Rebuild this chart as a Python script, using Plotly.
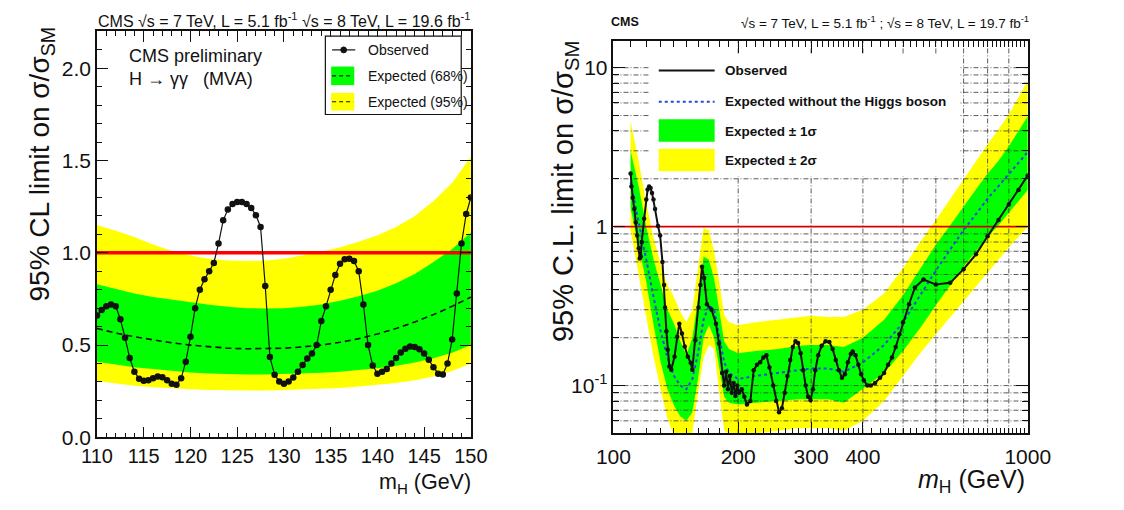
import math
import plotly.graph_objects as go

W, H = 1124, 510
FONT = "Liberation Sans, Arial, Helvetica, sans-serif"
INK = "#111111"

# ---------------- LEFT PANEL DATA (H -> gamma gamma, MVA) ----------------
left_band_mass = [110, 112, 114, 116, 118, 120, 122, 124, 126, 128, 130,
                  132, 134, 136, 138, 140, 142, 144, 146, 148, 150]
left_exp95_low = [0.305, 0.292, 0.28, 0.272, 0.265, 0.26, 0.256, 0.254, 0.253, 0.254, 0.256,
                  0.259, 0.263, 0.268, 0.275, 0.283, 0.294, 0.31, 0.33, 0.36, 0.40]
left_exp68_low = [0.41, 0.395, 0.38, 0.37, 0.36, 0.352, 0.346, 0.342, 0.34, 0.34, 0.342,
                  0.345, 0.35, 0.356, 0.364, 0.374, 0.388, 0.405, 0.428, 0.458, 0.50]
left_exp_median = [0.59, 0.565, 0.545, 0.527, 0.512, 0.50, 0.49, 0.483, 0.48, 0.48, 0.483,
                   0.49, 0.50, 0.515, 0.535, 0.56, 0.59, 0.625, 0.665, 0.71, 0.76]
left_exp68_high = [0.83, 0.805, 0.78, 0.76, 0.745, 0.73, 0.718, 0.708, 0.70, 0.698, 0.70,
                   0.708, 0.72, 0.74, 0.765, 0.795, 0.835, 0.885, 0.95, 1.02, 1.11]
left_exp95_high = [1.15, 1.12, 1.085, 1.045, 1.01, 0.985, 0.968, 0.958, 0.955, 0.958, 0.968,
                   0.985, 1.005, 1.03, 1.06, 1.095, 1.14, 1.20, 1.28, 1.38, 1.52]

left_obs_mass = [110.0, 110.5, 111.0, 111.5, 112.0, 112.5, 113.0, 113.5, 114.0, 114.5,
                 115.0, 115.5, 116.0, 116.5, 117.0, 117.5, 118.0, 118.5, 119.0, 119.5,
                 120.0, 120.5, 121.0, 121.5, 122.0, 122.5, 123.0, 123.5, 124.0, 124.5,
                 125.0, 125.5, 126.0, 126.5, 127.0, 127.5, 128.0, 128.5, 129.0, 129.5,
                 130.0, 130.5, 131.0, 131.5, 132.0, 132.5, 133.0, 133.5, 134.0, 134.5,
                 135.0, 135.5, 136.0, 136.5, 137.0, 137.5, 138.0, 138.5, 139.0, 139.5,
                 140.0, 140.5, 141.0, 141.5, 142.0, 142.5, 143.0, 143.5, 144.0, 144.5,
                 145.0, 145.5, 146.0, 146.5, 147.0, 147.5, 148.0, 148.5, 149.0, 149.5,
                 150.0]
left_obs_limit = [0.66, 0.69, 0.71, 0.72, 0.71, 0.64, 0.54, 0.43, 0.355, 0.318,
                  0.307, 0.31, 0.32, 0.33, 0.325, 0.31, 0.29, 0.285, 0.32, 0.41,
                  0.545, 0.70, 0.80, 0.856, 0.90, 0.945, 1.05, 1.176, 1.234, 1.264,
                  1.275, 1.275, 1.264, 1.243, 1.204, 1.14, 0.82, 0.436, 0.339, 0.303,
                  0.291, 0.303, 0.324, 0.356, 0.392, 0.427, 0.454, 0.50, 0.63, 0.71,
                  0.80, 0.88, 0.94, 0.965, 0.968, 0.956, 0.90, 0.72, 0.50, 0.39,
                  0.345, 0.355, 0.37, 0.40, 0.43, 0.46, 0.48, 0.492, 0.49, 0.478,
                  0.455, 0.42, 0.38, 0.345, 0.34, 0.40, 0.53, 0.78, 1.05, 1.21,
                  1.30]

left_x_ticks = [110, 115, 120, 125, 130, 135, 140, 145, 150]
sm_ratio = 1.0

# ---------------- RIGHT PANEL DATA (110 - 1000 GeV) ----------------
right_band_mass = [110, 115, 120, 125, 130, 135, 140, 145, 150, 155, 160, 165, 170, 175,
                   180, 185, 190, 200, 220, 250, 280, 300, 330, 360, 400, 450, 500, 550,
                   600, 650, 700, 750, 800, 850, 900, 950, 1000]
right_exp_median = [1.9, 1.1, 0.62, 0.36, 0.22, 0.15, 0.115, 0.1, 0.095, 0.11, 0.16, 0.26,
                    0.32, 0.30, 0.2, 0.14, 0.12, 0.11, 0.115, 0.12, 0.125, 0.128, 0.128,
                    0.122, 0.14, 0.18, 0.25, 0.37, 0.53, 0.72, 0.95, 1.2, 1.5, 1.8, 2.15,
                    2.55, 2.95]
right_exp2s_high = [4.6, 2.6, 1.4, 0.85, 0.58, 0.43, 0.36, 0.29, 0.25, 0.3, 0.55, 0.98,
                    0.95, 0.7, 0.45, 0.28, 0.25, 0.24, 0.25, 0.26, 0.27, 0.275, 0.27,
                    0.27, 0.3, 0.38, 0.55, 0.8, 1.1, 1.5, 2.0, 2.6, 3.3, 4.1, 5.1, 6.5, 8.3]
right_exp1s_high = [3.0, 1.8, 1.0, 0.62, 0.43, 0.3, 0.245, 0.19, 0.155, 0.2, 0.35, 0.65,
                    0.62, 0.47, 0.3, 0.19, 0.17, 0.16, 0.165, 0.17, 0.178, 0.18, 0.18,
                    0.175, 0.2, 0.26, 0.37, 0.54, 0.77, 1.02, 1.35, 1.72, 2.15, 2.6, 3.2,
                    4.0, 4.95]
right_exp1s_low = [1.3, 0.75, 0.45, 0.24, 0.14, 0.095, 0.075, 0.064, 0.06, 0.068, 0.11,
                   0.2, 0.24, 0.2, 0.13, 0.085, 0.078, 0.076, 0.078, 0.08, 0.082, 0.082,
                   0.082, 0.078, 0.095, 0.12, 0.165, 0.23, 0.32, 0.43, 0.56, 0.7, 0.86,
                   1.02, 1.22, 1.45, 1.7]
right_exp2s_low = [0.95, 0.5, 0.28, 0.15, 0.095, 0.062, 0.048, 0.045, 0.045, 0.05, 0.09,
                   0.15, 0.18, 0.17, 0.09, 0.052, 0.05, 0.05, 0.05, 0.052, 0.054, 0.054,
                   0.054, 0.052, 0.06, 0.08, 0.115, 0.16, 0.21, 0.27, 0.34, 0.42, 0.52,
                   0.62, 0.74, 0.87, 1.0]

right_obs_mass = [110, 110.5, 111.3, 112.3, 113.2, 114.1, 115.1, 115.7, 116.4, 117,
                  118.6, 120, 120.9, 121.9, 122.9, 123.9, 124.9, 126, 128.1, 129.6,
                  131.3, 132.5, 133.2, 134.2, 135.2, 136.4, 137.9, 140.4, 142.6, 144.2,
                  146.3, 148.6, 151.2, 153.6, 155, 157.6, 160.4, 162.1, 163.6, 165.5,
                  168.1, 172.5, 176.8, 179.8, 182.9, 185, 187, 189, 191, 193,
                  195, 197, 199, 201, 204, 207, 210, 214, 218, 222,
                  226, 230, 234, 238, 243, 247, 251, 255, 259, 263,
                  267, 271, 275, 279, 283, 287, 291, 295, 299, 303,
                  307, 312, 318, 325, 332, 338, 344, 350, 356, 362,
                  368, 374, 378, 384, 390, 396, 402, 410, 418, 428,
                  440, 450, 460, 470, 480, 490, 500, 517, 534, 560,
                  600, 650, 700, 750, 800, 850, 900, 950, 1000]
right_obs_limit = [2.16, 1.79, 1.52, 1.29, 1.06, 0.88, 0.73, 0.63, 0.65, 0.80,
                   1.12, 1.48, 1.71, 1.79, 1.75, 1.63, 1.48, 1.29, 1.01, 0.88,
                   0.60, 0.43, 0.31, 0.22, 0.168, 0.132, 0.126, 0.152, 0.203, 0.245,
                   0.213, 0.176, 0.152, 0.139, 0.126, 0.193, 0.31, 0.43, 0.56, 0.476,
                   0.325, 0.30, 0.245, 0.184, 0.12, 0.10, 0.122, 0.095, 0.115, 0.09,
                   0.104, 0.086, 0.1, 0.09, 0.095, 0.085, 0.076, 0.08, 0.125, 0.135,
                   0.14, 0.15, 0.155, 0.13, 0.1, 0.08, 0.068, 0.072, 0.09, 0.115,
                   0.145, 0.175, 0.19, 0.185, 0.16, 0.125, 0.1, 0.085, 0.081, 0.095,
                   0.125, 0.155, 0.178, 0.19, 0.188, 0.17, 0.145, 0.125, 0.112, 0.118,
                   0.14, 0.158, 0.164, 0.155, 0.135, 0.118, 0.108, 0.1, 0.1, 0.104,
                   0.112, 0.12, 0.135, 0.15, 0.175, 0.21, 0.25, 0.325, 0.414, 0.465,
                   0.432, 0.443, 0.54, 0.67, 0.87, 1.1, 1.38, 1.7, 2.1]

right_x_tickvals = [100, 200, 300, 400, 1000]
right_x_ticktext = ["100", "200", "300", "400", "1000"]
right_x_minor = [110, 120, 130, 140, 150, 160, 170, 180, 190,
                 210, 220, 230, 240, 250, 260, 270, 280, 290,
                 310, 320, 330, 340, 350, 360, 370, 380, 390,
                 420, 440, 460, 480, 500, 520, 540, 560, 580, 600, 620, 640, 660, 680,
                 700, 720, 740, 760, 780, 800, 820, 840, 860, 880, 900, 920, 940, 960, 980]
right_y_tickvals = [0.1, 1, 10]
right_y_ticktext = ["10<sup>-1</sup>", "1", "10"]
right_y_minor = [0.06, 0.07, 0.08, 0.09, 0.2, 0.3, 0.4, 0.5, 0.6, 0.7, 0.8, 0.9,
                 2, 3, 4, 5, 6, 7, 8, 9]
right_grid_mass = [200, 300, 400, 500, 600, 700, 800, 900]
right_grid_limit = [0.06, 0.07, 0.08, 0.09, 0.1, 0.2, 0.3, 0.4, 0.5, 0.6, 0.7, 0.8,
                    0.9, 2, 3, 4, 5, 6, 7, 8, 9, 10]

# ---------------- geometry (pixels) ----------------
L_X0, L_X1, L_Y0, L_Y1 = 82, 470, 447, 32      # left plot frame
R_X0, R_X1, R_Y0, R_Y1 = 618, 1048, 443, 42    # right plot frame
L_XR = [110, 150]
L_YR = [0.0, 2.2]
R_XR = [2.0, 3.0]
R_YR = [math.log10(0.05), math.log10(14.7)]


def PX(px):
    return px / W


def PY(py):
    return 1 - py / H


def r_xdata(px):
    return 10 ** (R_XR[0] + (px - R_X0) / (R_X1 - R_X0) * (R_XR[1] - R_XR[0]))


def r_ydata(py):
    return 10 ** (R_YR[0] + (R_Y0 - py) / (R_Y0 - R_Y1) * (R_YR[1] - R_YR[0]))


YELLOW = "#ffff00"
GREEN = "#00ff00"

fig = go.Figure()

# ---------- left traces ----------
fig.add_trace(go.Scatter(x=left_band_mass, y=left_exp95_low, mode="lines",
                         line=dict(width=0, color=YELLOW), hoverinfo="skip",
                         xaxis="x", yaxis="y"))
fig.add_trace(go.Scatter(x=left_band_mass, y=left_exp95_high, mode="lines",
                         line=dict(width=0, color=YELLOW), fill="tonexty",
                         fillcolor=YELLOW, name="Expected (95%)", xaxis="x", yaxis="y"))
fig.add_trace(go.Scatter(x=left_band_mass, y=left_exp68_low, mode="lines",
                         line=dict(width=0, color=GREEN), hoverinfo="skip",
                         xaxis="x", yaxis="y"))
fig.add_trace(go.Scatter(x=left_band_mass, y=left_exp68_high, mode="lines",
                         line=dict(width=0, color=GREEN), fill="tonexty",
                         fillcolor=GREEN, name="Expected (68%)", xaxis="x", yaxis="y"))
fig.add_trace(go.Scatter(x=left_band_mass, y=left_exp_median, mode="lines",
                         line=dict(width=1.6, color=INK, dash="6px,4px"),
                         name="Expected", xaxis="x", yaxis="y"))
fig.add_trace(go.Scatter(x=L_XR, y=[sm_ratio, sm_ratio], mode="lines",
                         line=dict(width=3.5, color="#ff0000"), hoverinfo="skip",
                         xaxis="x", yaxis="y"))
fig.add_trace(go.Scatter(x=left_obs_mass, y=left_obs_limit, mode="lines+markers",
                         line=dict(width=1.2, color=INK),
                         marker=dict(size=6.5, color=INK, symbol="circle"),
                         name="Observed", xaxis="x", yaxis="y"))

# ---------- right traces ----------
fig.add_trace(go.Scatter(x=right_band_mass, y=right_exp2s_low, mode="lines",
                         line=dict(width=0, color=YELLOW), hoverinfo="skip",
                         xaxis="x2", yaxis="y2"))
fig.add_trace(go.Scatter(x=right_band_mass, y=right_exp2s_high, mode="lines",
                         line=dict(width=0, color=YELLOW), fill="tonexty",
                         fillcolor=YELLOW, name="Expected ± 2σ", xaxis="x2", yaxis="y2"))
fig.add_trace(go.Scatter(x=right_band_mass, y=right_exp1s_low, mode="lines",
                         line=dict(width=0, color=GREEN), hoverinfo="skip",
                         xaxis="x2", yaxis="y2"))
fig.add_trace(go.Scatter(x=right_band_mass, y=right_exp1s_high, mode="lines",
                         line=dict(width=0, color=GREEN), fill="tonexty",
                         fillcolor=GREEN, name="Expected ± 1σ", xaxis="x2", yaxis="y2"))

# grid lines drawn over the bands (as in the original)
y_lo, y_hi = 10 ** R_YR[0], 10 ** R_YR[1]
x_lo, x_hi = 10 ** R_XR[0], 10 ** R_XR[1]
gx, gy = [], []
for v in right_grid_limit:
    gx += [x_lo, x_hi, None]
    gy += [v, v, None]
for m in right_grid_mass:
    gx += [m, m, None]
    gy += [y_lo, y_hi, None]
fig.add_trace(go.Scatter(x=gx, y=gy, mode="lines",
                         line=dict(width=0.8, color="#333333", dash="5px,2px,1px,2px"),
                         hoverinfo="skip", xaxis="x2", yaxis="y2"))

# white legend background (covers the grid like in the original)
bx0, bx1 = r_xdata(655), r_xdata(977)
by0, by1 = r_ydata(180), r_ydata(56)
fig.add_trace(go.Scatter(x=[bx0, bx1, bx1, bx0, bx0], y=[by0, by0, by1, by1, by0],
                         mode="lines", fill="toself", fillcolor="white",
                         line=dict(width=0, color="white"), hoverinfo="skip",
                         xaxis="x2", yaxis="y2"))

fig.add_trace(go.Scatter(x=[x_lo, x_hi], y=[sm_ratio, sm_ratio], mode="lines",
                         line=dict(width=1.6, color="#d40000"), hoverinfo="skip",
                         xaxis="x2", yaxis="y2"))
fig.add_trace(go.Scatter(x=right_band_mass, y=right_exp_median, mode="lines",
                         line=dict(width=2, color="#2448e0", dash="dot"),
                         name="Expected without the Higgs boson", xaxis="x2", yaxis="y2"))
fig.add_trace(go.Scatter(x=right_obs_mass, y=right_obs_limit, mode="lines+markers",
                         line=dict(width=2, color=INK),
                         marker=dict(size=4.5, color=INK),
                         name="Observed", xaxis="x2", yaxis="y2"))

# ---------- axes ----------
base_axis = dict(showline=True, linecolor=INK, linewidth=1.5, mirror="ticks",
                 ticks="inside", tickcolor=INK, tickwidth=1, showgrid=False,
                 zeroline=False, layer="above traces")

fig.update_layout(
    width=W, height=H, autosize=False,
    margin=dict(l=0, r=0, t=0, b=0),
    paper_bgcolor="white", plot_bgcolor="white",
    showlegend=False,
    font=dict(family=FONT, color=INK),
    xaxis=dict(base_axis, domain=[PX(L_X0), PX(L_X1)], range=L_XR, anchor="y",
               tickmode="array", tickvals=left_x_ticks, ticklen=11,
               tickfont=dict(family=FONT, size=20, color=INK),
               minor=dict(ticks="inside", ticklen=5, dtick=1, tickcolor=INK,
                          tickwidth=1, showgrid=False)),
    yaxis=dict(base_axis, domain=[PY(L_Y0), PY(L_Y1)], range=L_YR, anchor="x",
               dtick=0.5, tick0=0, tickformat=".1f", ticklen=11,
               tickfont=dict(family=FONT, size=21, color=INK),
               minor=dict(ticks="inside", ticklen=5, dtick=0.1, tickcolor=INK,
                          tickwidth=1, showgrid=False)),
    xaxis2=dict(base_axis, type="log", domain=[PX(R_X0), PX(R_X1)], range=R_XR,
                anchor="y2", tickmode="array", tickvals=right_x_tickvals,
                ticktext=right_x_ticktext, ticklen=12, ticklabelstandoff=4,
                tickfont=dict(family=FONT, size=21, color=INK),
                minor=dict(ticks="inside", ticklen=6, tickmode="array",
                           tickvals=right_x_minor, tickcolor=INK, tickwidth=1,
                           showgrid=False)),
    yaxis2=dict(base_axis, type="log", domain=[PY(R_Y0), PY(R_Y1)], range=R_YR,
                anchor="x2", tickmode="array", tickvals=right_y_tickvals,
                ticktext=right_y_ticktext, ticklen=12,
                tickfont=dict(family=FONT, size=21, color=INK),
                minor=dict(ticks="inside", ticklen=6, tickmode="array",
                           tickvals=right_y_minor, tickcolor=INK, tickwidth=1,
                           showgrid=False)),
)

# ---------- legends drawn as shapes ----------
shapes = [
    # left legend box
    dict(type="rect", xref="paper", yref="paper", x0=PX(319), x1=PX(460),
         y0=PY(117), y1=PY(37), line=dict(color=INK, width=1.2), fillcolor="white"),
    dict(type="line", xref="paper", yref="paper", x0=PX(326), x1=PX(350),
         y0=PY(51), y1=PY(51), line=dict(color=INK, width=1.2)),
    dict(type="circle", xref="paper", yref="paper", x0=PX(335), x1=PX(341),
         y0=PY(54), y1=PY(48), line=dict(color=INK, width=1), fillcolor=INK),
    dict(type="rect", xref="paper", yref="paper", x0=PX(325), x1=PX(349),
         y0=PY(87), y1=PY(68), line=dict(width=0), fillcolor=GREEN),
    dict(type="line", xref="paper", yref="paper", x0=PX(326), x1=PX(348),
         y0=PY(77.5), y1=PY(77.5), line=dict(color=INK, width=1.2, dash="4px,3px")),
    dict(type="rect", xref="paper", yref="paper", x0=PX(325), x1=PX(349),
         y0=PY(113), y1=PY(95), line=dict(width=0), fillcolor=YELLOW),
    dict(type="line", xref="paper", yref="paper", x0=PX(326), x1=PX(348),
         y0=PY(104), y1=PY(104), line=dict(color=INK, width=1.2, dash="4px,3px")),
    # right legend
    dict(type="line", xref="paper", yref="paper", x0=PX(665), x1=PX(723),
         y0=PY(72), y1=PY(72), line=dict(color=INK, width=2)),
    dict(type="line", xref="paper", yref="paper", x0=PX(665), x1=PX(723),
         y0=PY(104), y1=PY(104), line=dict(color="#2448e0", width=2, dash="dot")),
    dict(type="rect", xref="paper", yref="paper", x0=PX(665), x1=PX(723),
         y0=PY(145), y1=PY(122), line=dict(width=0), fillcolor=GREEN),
    dict(type="rect", xref="paper", yref="paper", x0=PX(665), x1=PX(723),
         y0=PY(175), y1=PY(152), line=dict(width=0), fillcolor=YELLOW),
]
fig.update_layout(shapes=shapes)


def ann(text, px, py, size, xanchor="left", bold=False, angle=0, yanchor="middle"):
    return dict(text=f"<b>{text}</b>" if bold else text, x=PX(px), y=PY(py),
                xref="paper", yref="paper", showarrow=False, xanchor=xanchor,
                yanchor=yanchor, textangle=angle, borderpad=0,
                font=dict(family=FONT, size=size, color=INK))


annotations = [
    # left panel texts
    ann("CMS √s = 7 TeV, L = 5.1 fb<sup>-1</sup> √s = 8 TeV, L = 19.6 fb<sup>-1</sup>",
        82, 20, 16),
    ann("CMS preliminary", 114, 57, 18),
    ann("H → γγ   (MVA)", 114, 81, 18),
    ann("Observed", 362, 51, 14),
    ann("Expected (68%)", 362, 78, 14),
    ann("Expected (95%)", 362, 104, 14),
    ann("m<sub>H</sub> (GeV)", 471, 509, 21.5, xanchor="right", yanchor="bottom"),
    ann("95% CL limit on σ/σ<sub>SM</sub>", 24, 168, 28, xanchor="center", angle=-90),
    # right panel texts
    ann("CMS", 614, 22, 12.5, bold=True),
    ann("√s = 7 TeV, L = 5.1 fb<sup>-1</sup> ; √s = 8 TeV, L = 19.7 fb<sup>-1</sup>",
        1050, 22, 13.5, xanchor="right"),
    ann("Observed", 733, 72, 13.5, bold=True),
    ann("Expected without the Higgs boson", 733, 104, 13.5, bold=True),
    ann("Expected ± 1σ", 733, 134, 13.5, bold=True),
    ann("Expected ± 2σ", 733, 164, 13.5, bold=True),
    ann("<i>m</i><sub>H</sub> (GeV)", 1046, 492, 25, xanchor="right"),
    ann("95% C.L. limit on σ/σ<sub>SM</sub>", 567, 195, 29, xanchor="center", angle=-90),
]
fig.update_layout(annotations=annotations)

fig.write_html("out.html")
